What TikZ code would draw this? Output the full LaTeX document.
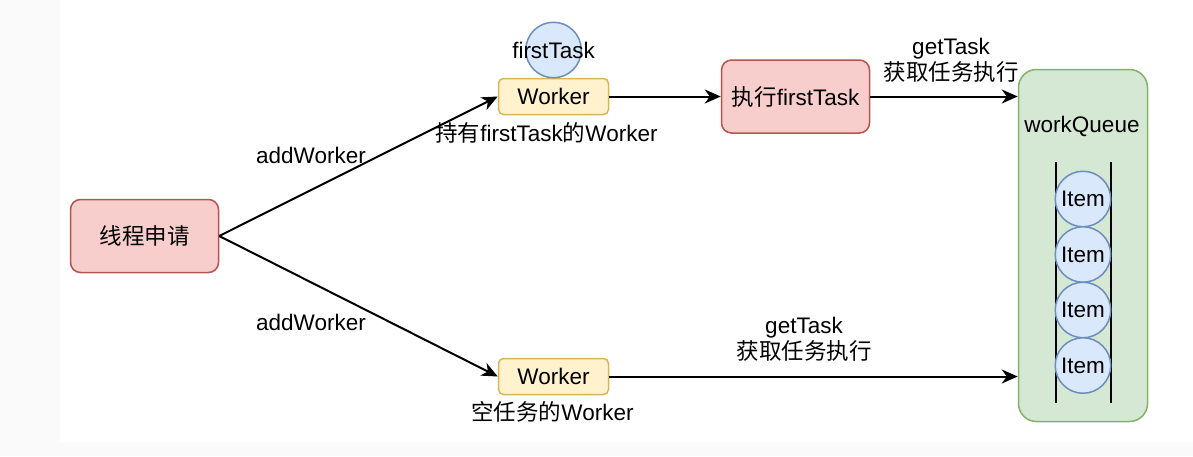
\documentclass[tikz,border=0pt]{standalone}
\usepackage{fontspec}
\setmainfont{Liberation Sans}
\newfontfamily\cjk{Noto Sans CJK SC}
\usepackage{tikz}
\usetikzlibrary{positioning,shapes,arrows.meta,backgrounds}
\definecolor{redfill}{HTML}{F8CECC}
\definecolor{reddraw}{HTML}{B85450}
\definecolor{yelfill}{HTML}{FFF2CC}
\definecolor{yeldraw}{HTML}{D6B656}
\definecolor{bluefill}{HTML}{DAE8FC}
\definecolor{bluedraw}{HTML}{6C8EBF}
\definecolor{grnfill}{HTML}{D5E8D4}
\definecolor{grndraw}{HTML}{82B366}
\definecolor{bggray}{HTML}{FAFAFA}
\tikzstyle{proc}=[%
      rectangle, rounded corners=10pt, draw=reddraw, line width=1.5pt, fill=redfill,
      minimum width=148pt, minimum height=73pt, inner sep=6pt
]
\tikzstyle{wk}=[%
      rectangle, rounded corners=5pt, draw=yeldraw, line width=1.5pt, fill=yelfill,
      minimum width=110pt, minimum height=36pt, inner sep=4pt
]
\tikzstyle{task}=[%
      circle, draw=bluedraw, line width=1.5pt, fill=bluefill,
      minimum size=55.5pt, inner sep=0pt, outer sep=0pt
]
\tikzstyle{queue}=[%
      rectangle, rounded corners=18pt, draw=grndraw, line width=1.5pt, fill=grnfill,
      minimum width=129pt, minimum height=352pt
]

\begin{document}
\begin{tikzpicture}[x=1pt, y=-1pt,
    font=\fontsize{22.5}{26}\selectfont,
    -{Stealth[length=16pt,width=14pt,inset=5pt]},
    line width=2pt
  ]
    \useasboundingbox (0,0) rectangle (1193,456);
    \fill[-, bggray] (0,0) rectangle (1193,456);
    \fill[-, white] (60,0) rectangle (1193,442);

    \node[proc] (req) at (144.5,236) {{\cjk 线程申请}};
    \node[wk] (w1) at (553.5,96.5) {Worker};
    \node[task, label=center:firstTask] (ft) [above = 0pt of w1] {};
    \node (w1l) at (546.5,133) {{\cjk 持有}firstTask{\cjk 的}Worker};
    \node[wk] (w2) at (553.5,376.5) {Worker};
    \node (w2l) at (552.5,412) {{\cjk 空任务的}Worker};
    \node[proc] (ex) at (795.5,96.5) {{\cjk 执行}firstTask};

    % queue with items
    \node[queue] (wq) at (1083,245.5) {};
    \node (wql) at (1082,126) {workQueue};
    \draw[-] (1055.5,162) -- (1055.5,403);
    \draw[-] (1111,162) -- (1111,403);
    \node[task] (i1) at (1083,199) {Item};
    \node[task] (i2) [below = 0pt of i1] {Item};
    \node[task] (i3) [below = 0pt of i2] {Item};
    \node[task] (i4) [below = 0pt of i3] {Item};

    % edge labels
    \node (a1) at (311,155) {addWorker};
    \node (a2) at (311,322) {addWorker};
    \node[align=center] (g1) at (951,60) {getTask\\{\cjk 获取任务执行}};
    \node[align=center] (g2) at (804,339.5) {getTask\\{\cjk 获取任务执行}};

    \path (req.east) edge (w1.west)
          (req.east) edge (w2.west)
          (w1) edge (ex)
          (ex) edge (ex -| wq.west)
          (w2) edge (w2 -| wq.west)
    ;
\end{tikzpicture}
\end{document}
